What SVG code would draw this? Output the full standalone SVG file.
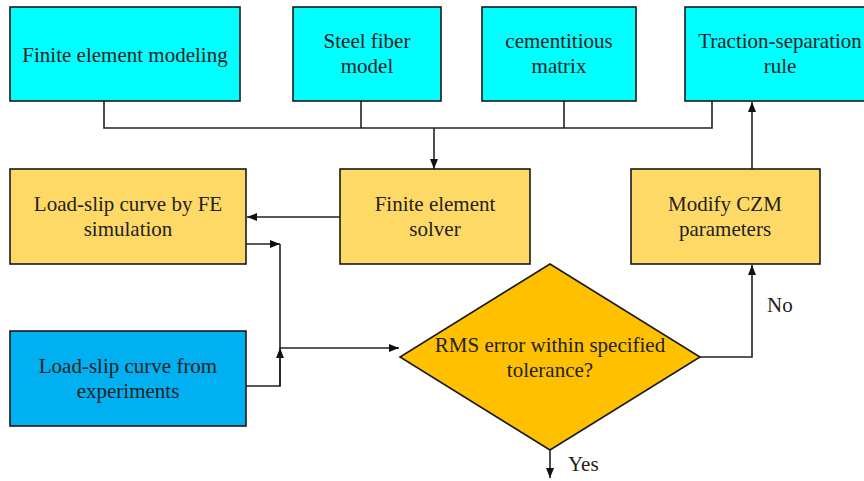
<svg xmlns="http://www.w3.org/2000/svg" width="864" height="481" viewBox="0 0 864 481">
<defs>
<marker id="ah" viewBox="0 0 10 8" refX="10" refY="4" markerWidth="10" markerHeight="8" markerUnits="userSpaceOnUse" orient="auto">
<path d="M0,0 L10,4 L0,8 Z" fill="#111"/>
</marker>
</defs>
<style>
.box{stroke:#1a1a1a;stroke-width:1.6}
.cyan{fill:#00FFFF}
.yel{fill:#FFD966}
.blue{fill:#00B0F0}
.gold{fill:#FFC000}
text{font-family:"Liberation Serif",Tinos,"Times New Roman",Times,"Noto Serif","DejaVu Serif",FreeSerif,serif;font-size:21px;fill:#222;text-anchor:middle}
.lbl{text-anchor:start}
.ln{fill:none;stroke:#222;stroke-width:1.6}
.arr{marker-end:url(#ah)}
</style>
<rect width="864" height="481" fill="#fff"/>
<g id="connectors">
<path class="ln" d="M104,101 V128 H712 V101 M361,101 V128 M564,101 V128"/>
<path class="ln arr" d="M434,128 V169"/>
<path class="ln arr" d="M340,217 H247"/>
<path class="ln arr" d="M246,244 H280"/>
<path class="ln" d="M280,244 V386 H246"/>
<path class="ln arr" d="M280,386 V348"/>
<path class="ln arr" d="M280,348 H399"/>
<path class="ln arr" d="M700,357 H752 V265"/>
<path class="ln arr" d="M752,169 V102"/>
<path class="ln arr" d="M550,450 V478"/>
<text class="lbl" x="767" y="312">No</text>
<text class="lbl" x="568" y="471">Yes</text>
</g>
<g id="n-fem">
<rect class="box cyan" x="10" y="7" width="230" height="94"/>
<text x="125" y="62">Finite element modeling</text>
</g>
<g id="n-steel">
<rect class="box cyan" x="293" y="7" width="148" height="94"/>
<text x="367" y="48">Steel fiber</text>
<text x="367" y="73">model</text>
</g>
<g id="n-matrix">
<rect class="box cyan" x="482" y="7" width="154" height="94"/>
<text x="559" y="48">cementitious</text>
<text x="559" y="73">matrix</text>
</g>
<g id="n-traction">
<rect class="box cyan" x="685" y="7" width="190" height="94"/>
<text x="780" y="48">Traction-separation</text>
<text x="780" y="73">rule</text>
</g>
<g id="n-fecurve">
<rect class="box yel" x="10" y="169" width="236" height="95"/>
<text x="128" y="211">Load-slip curve by FE</text>
<text x="128" y="236">simulation</text>
</g>
<g id="n-solver">
<rect class="box yel" x="340" y="169" width="190" height="95"/>
<text x="435" y="211">Finite element</text>
<text x="435" y="236">solver</text>
</g>
<g id="n-modify">
<rect class="box yel" x="631" y="169" width="189" height="95"/>
<text x="725" y="211">Modify CZM</text>
<text x="725" y="236">parameters</text>
</g>
<g id="n-exp">
<rect class="box blue" x="10" y="331" width="236" height="95"/>
<text x="128" y="373">Load-slip curve from</text>
<text x="128" y="398">experiments</text>
</g>
<g id="n-rms">
<polygon class="box gold" points="550,264 700,357 550,450 400,357"/>
<text x="550" y="352">RMS error within specified</text>
<text x="550" y="377">tolerance?</text>
</g>
</svg>
